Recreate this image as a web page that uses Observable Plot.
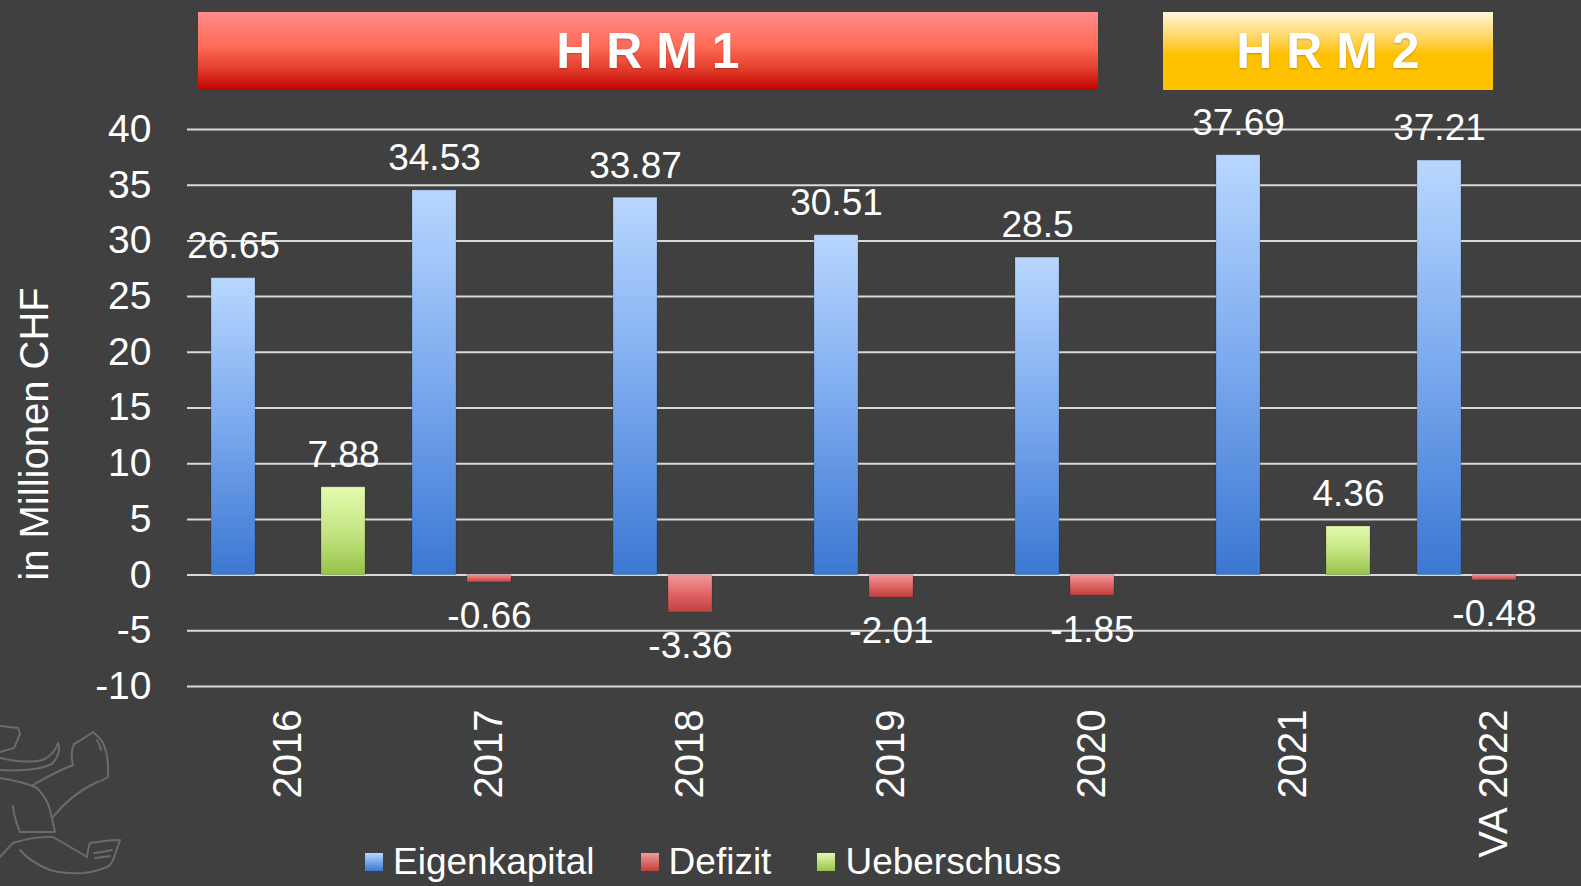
<!DOCTYPE html>
<html><head><meta charset="utf-8">
<script src="https://cdn.jsdelivr.net/npm/d3@7"></script>
<script src="https://cdn.jsdelivr.net/npm/@observablehq/plot@0.6"></script>
<style>
html,body{margin:0;padding:0;background:#404040;overflow:hidden;}
#wrap{position:relative;width:1581px;height:886px;overflow:hidden;font-family:"Liberation Sans",Arial,sans-serif;background:#404040;}
#chart{position:absolute;left:0;top:0;}
#chart svg{max-width:none !important;}
.banner{position:absolute;top:12px;height:78px;display:flex;align-items:center;justify-content:center;color:#fff;font-weight:bold;font-size:50px;white-space:pre;text-shadow:0 1px 2px rgba(0,0,0,0.25);}
#hrm1{left:198px;width:900px;background:linear-gradient(to bottom,#ff8c8c 0%,#ff6a55 45%,#e03a28 75%,#c00000 100%);}
#hrm2{left:1163px;width:330px;background:linear-gradient(to bottom,#fff6dc 0%,#ffd45a 35%,#ffc000 55%,#ffc000 100%);}
#legend{position:absolute;left:365px;top:841px;height:42px;display:flex;align-items:center;color:#fff;font-size:37px;line-height:1.1;}
#legend .item{display:flex;align-items:center;margin-right:46px;}
#legend .sw{width:18px;height:18px;margin-right:10px;}
#lion{position:absolute;left:0;top:700px;}
#ylabel{position:absolute;left:34px;top:434px;transform:translate(-50%,-50%) rotate(-90deg);white-space:nowrap;color:#fff;font-size:40px;line-height:1;}
</style>
</head><body>
<div id="wrap">
  <svg id="lion" width="140" height="186" viewBox="0 700 140 186">
    <g fill="none" stroke="#6b6b6b" stroke-width="2" stroke-linejoin="round" stroke-linecap="round">
      <path d="M0,726 L18,728 L20,734 L14,748 L0,752"/>
      <path d="M0,758 Q25,764 43,760 Q55,754 58,743 Q62,752 52,764 Q35,772 0,770"/>
      <path d="M33,785 Q55,772 73,765 Q70,752 74,744 Q85,738 93,732 Q100,738 103,743 Q108,755 108,767 L108,777 Q100,782 97,782 Q70,795 53,817"/>
      <path d="M0,778 Q25,782 37,788 Q48,800 50,810 Q53,822 55,832 L20,832 Q16,822 15,817 Q13,810 13,806"/>
      <path d="M0,857 Q8,848 13,843 Q35,836 53,837 Q72,848 87,857 Q88,848 90,843 Q108,840 120,840 Q116,852 113,860 Q110,866 107,867 Q95,872 83,873 Q65,874 50,870 Q30,862 20,850"/>
      <path d="M97,740 Q100,745 101,750 M94,853 Q104,852 112,850 M95,858 Q103,857 110,856"/>
    </g>
  </svg>
  <div id="chart"></div>
  <div class="banner" id="hrm1">H R M 1</div>
  <div class="banner" id="hrm2">H R M 2</div>
  <div id="ylabel">in Millionen CHF</div>
  <div id="legend"></div>
</div>
<script>
// ---- data ----
const years = ["2016", "2017", "2018", "2019", "2020", "2021", "VA 2022"];
const seriesNames = ["Eigenkapital", "Defizit", "Ueberschuss"];
const eigenkapital = [26.65, 34.53, 33.87, 30.51, 28.5, 37.69, 37.21];
const defizit = [null, -0.66, -3.36, -2.01, -1.85, null, -0.48];
const ueberschuss = [7.88, null, null, null, null, 4.36, null];
const yTicks = [-10, -5, 0, 5, 10, 15, 20, 25, 30, 35, 40];

const seriesValues = [eigenkapital, defizit, ueberschuss];
const data = [];
years.forEach((yr, i) => {
  seriesNames.forEach((s, j) => {
    const v = seriesValues[j][i];
    if (v != null) data.push({year: yr, series: s, value: v});
  });
});

const gradIds = ["gEK", "gDF", "gUB"];
const gradStops = [
  [["0%", "#b8d7ff"], ["50%", "#7aa9ee"], ["100%", "#3b77d2"]],
  [["0%", "#f29a9a"], ["50%", "#e06666"], ["100%", "#c0403d"]],
  [["0%", "#e4fab0"], ["50%", "#c5e683"], ["100%", "#98c24a"]]
];
const swatchCss = [
  "linear-gradient(to bottom,#b8d7ff,#3b77d2)",
  "linear-gradient(to bottom,#f29a9a,#c0403d)",
  "linear-gradient(to bottom,#e4fab0,#98c24a)"
];

const font = "Liberation Sans, Arial, sans-serif";

const chart = Plot.plot({
  width: 1597,
  height: 886,
  marginLeft: 184,
  marginRight: 0,
  marginTop: 129,
  marginBottom: 200,
  style: {background: "transparent", color: "#ffffff", fontFamily: font, fontSize: "37px", maxWidth: "none", overflow: "visible"},
  fx: {domain: years, padding: 0, label: null},
  x: {domain: seriesNames, paddingInner: 0.2, paddingOuter: 0.4, axis: null},
  y: {domain: [-10, 40]},
  color: {domain: seriesNames, range: gradIds.map(id => `url(#${id})`)},
  marks: [
    Plot.ruleY(yTicks, {stroke: "#d9d9d9", strokeWidth: 2}),
    Plot.barY(data, {fx: "year", x: "series", y: "value", fill: "series", stroke: "rgba(0,0,0,0.15)", strokeWidth: 1}),
    Plot.text(data.filter(d => d.value > 0), {fx: "year", x: "series", y: "value", text: d => String(d.value), dy: -32, fill: "#ffffff", fontSize: 37}),
    Plot.text(data.filter(d => d.value < 0), {fx: "year", x: "series", y: "value", text: d => String(d.value), dy: 34, fill: "#ffffff", fontSize: 37}),
    Plot.axisY(yTicks, {tickSize: 0, tickPadding: 36, fontSize: 39, tickFormat: d => String(d), label: null}),
    Plot.axisFx({anchor: "bottom", tickRotate: -90, tickSize: 0, tickPadding: 23, fontSize: 40, label: null})
  ]
});

// gradient definitions
const ns = "http://www.w3.org/2000/svg";
const defs = document.createElementNS(ns, "defs");
gradIds.forEach((id, k) => {
  const g = document.createElementNS(ns, "linearGradient");
  g.setAttribute("id", id);
  g.setAttribute("x1", "0"); g.setAttribute("y1", "0");
  g.setAttribute("x2", "0"); g.setAttribute("y2", "1");
  gradStops[k].forEach(([o, c]) => {
    const st = document.createElementNS(ns, "stop");
    st.setAttribute("offset", o);
    st.setAttribute("stop-color", c);
    g.appendChild(st);
  });
  defs.appendChild(g);
});
chart.insertBefore(defs, chart.firstChild);
document.getElementById("chart").appendChild(chart);

// legend
const legend = document.getElementById("legend");
seriesNames.forEach((s, k) => {
  const item = document.createElement("div");
  item.className = "item";
  const sw = document.createElement("div");
  sw.className = "sw";
  sw.style.background = swatchCss[k];
  const t = document.createElement("span");
  t.textContent = s;
  item.appendChild(sw);
  item.appendChild(t);
  legend.appendChild(item);
});
</script>
</body></html>
